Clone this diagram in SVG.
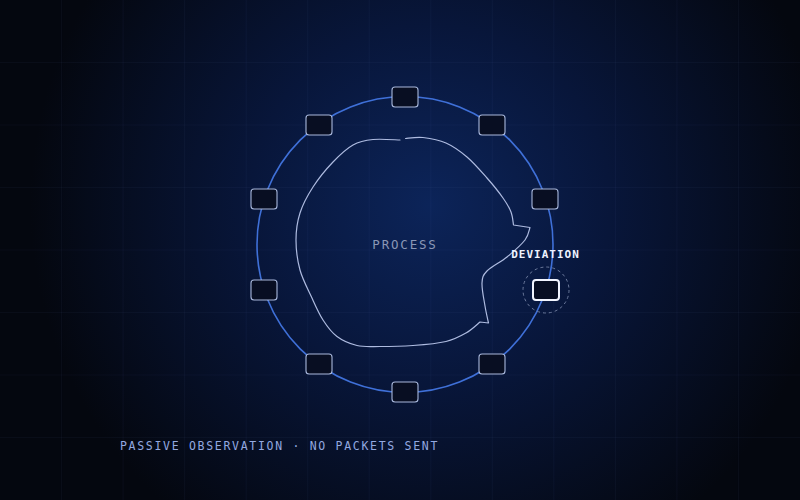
<svg xmlns="http://www.w3.org/2000/svg" width="800" height="500" viewBox="0 0 800 500">
  <defs>
    <radialGradient id="bg" gradientUnits="userSpaceOnUse" cx="430" cy="205" r="400">
      <stop offset="0" stop-color="#0c2459"/>
      <stop offset="0.45" stop-color="#08163a"/>
      <stop offset="1" stop-color="#04070f"/>
    </radialGradient>
    <style>
      .grid { stroke: #6c86c8; stroke-opacity: 0.05; stroke-width: 1.2; fill: none; }
      .ring { fill: none; stroke: #3f70d8; stroke-width: 1.6; }
      .node rect { fill: #080e22; stroke: #a9b8dc; stroke-width: 1.1; }
      .blob { fill: none; stroke: #aebbe0; stroke-width: 1.2; stroke-linejoin: round; stroke-linecap: round; }
      .mono { font-family: "DejaVu Sans Mono", "Liberation Mono", monospace; }
    </style>
  </defs>

  <rect width="800" height="500" fill="url(#bg)"/>

  <g id="grid" class="grid">
    <path d="M61.5 0V500M123.1 0V500M184.6 0V500M246.2 0V500M307.7 0V500M369.2 0V500M430.8 0V500M492.3 0V500M553.8 0V500M615.4 0V500M676.9 0V500M738.5 0V500"/>
    <path d="M0 62.5H800M0 125H800M0 187.5H800M0 250H800M0 312.5H800M0 375H800M0 437.5H800"/>
  </g>

  <g id="process">
    <path class="blob" d="M405.5 138.5 C408.4 138.3 416.25 136.75 423 137.5 C429.75 138.25 438.7 139.75 446 143 C453.3 146.25 460.2 151.2 467 157 C473.8 162.8 481 171.2 487 178 C493 184.8 499 192.3 503 198 C507 203.7 509.25 207.5 511 212 C512.75 216.5 513.1 222.8 513.5 225 L530 227.5 C529.2 229.6 528.8 235.1 525 240 C521.2 244.9 513.3 251.8 507 257 C500.7 262.2 491.2 266.7 487 271 C482.8 275.3 482.3 277.2 482 283 C481.7 288.8 483.9 299.3 485 306 C486.1 312.7 487.9 320.2 488.5 323 L480 322 C477.7 323.8 471.7 329.75 466 333 C460.3 336.25 454.8 339.4 446 341.5 C437.2 343.6 424 344.7 413 345.5 C402 346.3 389.3 346.5 380 346.5 C370.7 346.5 364.2 347.2 357 345.5 C349.8 343.8 342.7 340.75 337 336.5 C331.3 332.25 327.25 326.6 323 320 C318.75 313.4 315.3 305.3 311.5 297 C307.7 288.7 302.6 279.5 300 270 C297.4 260.5 296 249.5 296 240 C296 230.5 297.2 221.8 300 213 C302.8 204.2 307.5 195.5 313 187 C318.5 178.5 326.3 169 333 162 C339.7 155 346.3 148.75 353 145 C359.7 141.25 365.2 140.3 373 139.5 C380.8 138.7 395.5 139.9 400 140"/>
    <text class="mono" x="405" y="249" font-size="12.5" letter-spacing="1.8" text-anchor="middle" fill="#8a97b6">PROCESS</text>
  </g>

  <g id="connectors">
    <circle class="ring" cx="405" cy="244.5" r="148"/>
  </g>

  <g id="node-0" class="node"><rect x="392" y="87" width="26" height="20" rx="3"/></g>
  <g id="node-1" class="node"><rect x="479" y="115" width="26" height="20" rx="3"/></g>
  <g id="node-2" class="node"><rect x="532" y="189" width="26" height="20" rx="3"/></g>
  <g id="node-4" class="node"><rect x="479" y="354" width="26" height="20" rx="3"/></g>
  <g id="node-5" class="node"><rect x="392" y="382" width="26" height="20" rx="3"/></g>
  <g id="node-6" class="node"><rect x="306" y="354" width="26" height="20" rx="3"/></g>
  <g id="node-7" class="node"><rect x="251" y="280" width="26" height="20" rx="3"/></g>
  <g id="node-8" class="node"><rect x="251" y="189" width="26" height="20" rx="3"/></g>
  <g id="node-9" class="node"><rect x="306" y="115" width="26" height="20" rx="3"/></g>

  <g id="node-deviation">
    <circle cx="546" cy="290" r="23" fill="none" stroke="#6c7a9c" stroke-width="1" stroke-dasharray="3 3"/>
    <rect x="533" y="280" width="26" height="20" rx="3" fill="#080e22" stroke="#f2f5ff" stroke-width="2"/>
    <text class="mono" x="545.5" y="257.5" font-size="11" font-weight="bold" letter-spacing="1" text-anchor="middle" fill="#eef2ff">DEVIATION</text>
  </g>

  <text class="mono" x="120" y="450" font-size="11.5" letter-spacing="1.7" fill="#93a9e0">PASSIVE OBSERVATION · NO PACKETS SENT</text>
</svg>
